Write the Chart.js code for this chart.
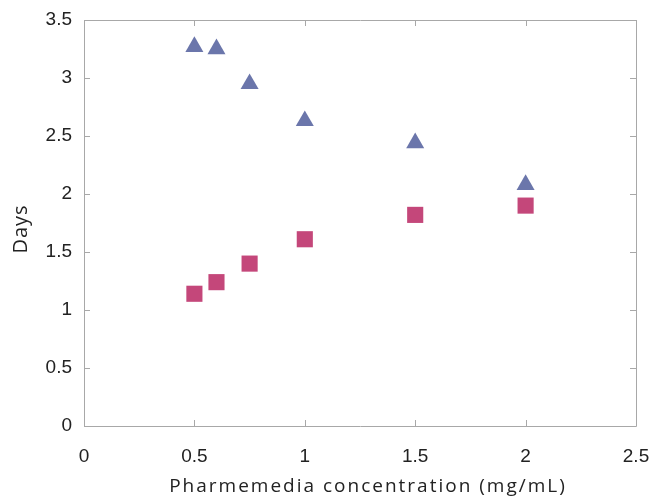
<!DOCTYPE html>
<html>
<head>
<meta charset="utf-8">
<script src="https://cdn.jsdelivr.net/npm/chart.js@4/dist/chart.umd.min.js"></script>
<style>
  html, body { margin: 0; padding: 0; background: #fff; }
  #wrap { width: 667px; height: 500px; }
</style>
</head>
<body>
<div id="wrap"><canvas id="daysChart" width="667" height="500"></canvas></div>
<script>
// concentration (mg/mL) and days
const concentration = [0.5, 0.6, 0.75, 1.0, 1.5, 2.0];
const triangleDays = [3.27, 3.25, 2.95, 2.63, 2.44, 2.08];
const squareDays = [1.14, 1.24, 1.40, 1.61, 1.82, 1.90];

const xTicks = [0, 0.5, 1, 1.5, 2, 2.5];
const yTicks = [0, 0.5, 1, 1.5, 2, 2.5, 3, 3.5];

const axisColor = '#a8a8a8';
const labelFont = { family: '"Liberation Sans", Arial, sans-serif', size: 19 };

const toPoints = (xs, ys) => xs.map((x, i) => ({ x: x, y: ys[i] }));

// box around the plot with short inward ticks on every side
const frameTicks = {
  id: 'frameTicks',
  afterDatasetsDraw(chart) {
    const { ctx, chartArea: a, scales: { x, y } } = chart;
    const len = 6;
    ctx.save();
    ctx.strokeStyle = axisColor;
    ctx.lineWidth = 1;
    ctx.beginPath();
    ctx.rect(a.left + 0.5, a.top + 0.5, a.right - a.left, a.bottom - a.top);
    xTicks.forEach(v => {
      const px = Math.round(x.getPixelForValue(v)) + 0.5;
      ctx.moveTo(px, a.bottom); ctx.lineTo(px, a.bottom - len);
      ctx.moveTo(px, a.top); ctx.lineTo(px, a.top + len);
    });
    yTicks.forEach(v => {
      const py = Math.round(y.getPixelForValue(v)) + 0.5;
      ctx.moveTo(a.left, py); ctx.lineTo(a.left + len, py);
      ctx.moveTo(a.right, py); ctx.lineTo(a.right - len, py);
    });
    ctx.stroke();
    ctx.restore();
  }
};

// letter-spaced axis titles, nudged a little like the original
const wrapTitle = (scale, ctx, spacing, dx, dy) => {
  if (scale._wrapped) return;
  const orig = scale.drawTitle.bind(scale);
  scale.drawTitle = function () {
    ctx.save();
    ctx.letterSpacing = spacing;
    ctx.translate(dx, dy);
    orig();
    ctx.restore();
  };
  scale._wrapped = true;
};

const spacedTitles = {
  id: 'spacedTitles',
  afterLayout(chart) {
    wrapTitle(chart.scales.x, chart.ctx, '2px', 8, 0);
    wrapTitle(chart.scales.y, chart.ctx, '1px', 0, 6);
  }
};

new Chart('daysChart', {
  type: 'scatter',
  data: {
    datasets: [{
      data: toPoints(concentration, triangleDays),
      pointStyle: 'triangle',
      pointRadius: 10.4,
      pointHoverRadius: 10.4,
      backgroundColor: '#6b76ab',
      borderWidth: 0
    }, {
      data: toPoints(concentration, squareDays),
      pointStyle: 'rect',
      pointRadius: 11.4,
      pointHoverRadius: 11.4,
      backgroundColor: '#c4477a',
      borderWidth: 0
    }]
  },
  options: {
    responsive: false,
    animation: false,
    layout: { padding: { top: 20, right: 31, left: 0, bottom: 0 } },
    plugins: {
      legend: { display: false },
      tooltip: { enabled: false }
    },
    scales: {
      x: {
        type: 'linear',
        min: 0,
        max: 2.5,
        afterBuildTicks: s => { s.ticks = xTicks.map(v => ({ value: v })); },
        afterFit: s => { s.height = 74; s.paddingLeft = 0; s.paddingRight = 0; },
        grid: { drawOnChartArea: false, drawTicks: false },
        border: { display: false },
        ticks: { font: labelFont, color: '#222', padding: 19, maxRotation: 0, callback: v => String(v) },
        title: {
          display: true,
          text: 'Pharmemedia concentration (mg/mL)',
          color: '#222',
          font: { family: '"Open Sans", sans-serif', size: 19 },
          padding: { top: 0, bottom: 2 }
        }
      },
      y: {
        type: 'linear',
        min: 0,
        max: 3.5,
        afterBuildTicks: s => { s.ticks = yTicks.map(v => ({ value: v })); },
        afterFit: s => { s.width = 84; s.paddingTop = 0; s.paddingBottom = 0; },
        grid: { drawOnChartArea: false, drawTicks: false },
        border: { display: false },
        ticks: { font: labelFont, color: '#222', padding: 12, callback: v => String(v) },
        title: {
          display: true,
          text: 'Days',
          color: '#222',
          font: { family: '"Open Sans", sans-serif', size: 20 },
          padding: { top: 9, bottom: 0 }
        }
      }
    }
  },
  plugins: [frameTicks, spacedTitles]
});
</script>
</body>
</html>
